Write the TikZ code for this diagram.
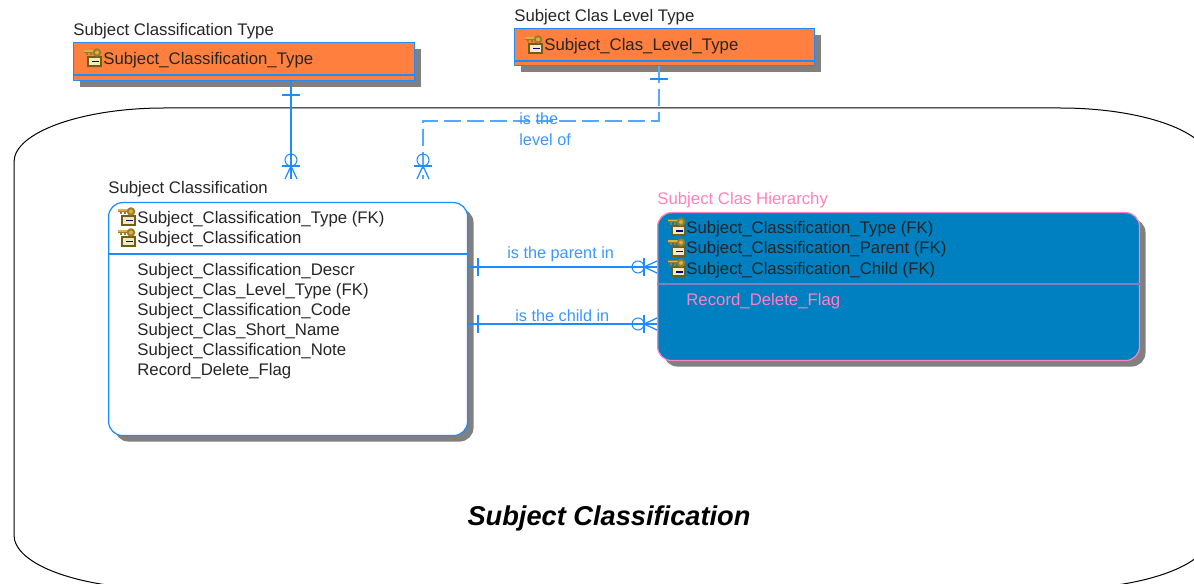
\documentclass[tikz,border=0pt]{standalone}
\usepackage{fontspec}
\setmainfont{Liberation Sans}
\usetikzlibrary{shadows}
\definecolor{linkblue}{HTML}{1E8CFF}
\definecolor{weakblue}{HTML}{55A8FF}
\definecolor{labelblue}{HTML}{3C96FF}
\definecolor{rowpink}{HTML}{FF80C0}
\definecolor{boxorange}{HTML}{FF7F3F}
\definecolor{boxblue}{HTML}{0080C0}
\definecolor{rulepurple}{HTML}{8080C0}
\definecolor{keygold}{HTML}{E0B040}
\definecolor{keyolive}{HTML}{6E6010}
\tikzset{
	keyicon/.pic={
		\fill[keygold!70!black] (0,1) rectangle (11,4);
		\fill[keygold!70!black] (2,4) rectangle (4,6.5);
		\fill[keygold!70!black] (6,4) rectangle (8,6.5);
		\fill[keyolive] (3,7) rectangle (18,18);
		\fill[keygold] (0,1.5) rectangle (11,3);
		\draw[keygold!70!black, fill=keygold, line width=0.04cm] (13,3.5) circle[radius=3.2];
		\fill[keygold!30!white] (5,9) rectangle (16,16);
		\fill[blue!55!black] (8,12) rectangle (15,13.5);
	}
}
\begin{document}
\begin{tikzpicture}[x=0.02cm, y=-0.02cm]
	\tikzstyle{entity} = [ draw=linkblue, rectangle, anchor=north west, inner sep=0, line width=0.025cm,
		drop shadow={shadow xshift=0.12cm, shadow yshift=-0.12cm, fill=gray, opacity=1} ];
	\tikzstyle{lookup} = [ entity, fill=boxorange ];
	\tikzstyle{main} = [ entity, fill=white, rounded corners=0.28cm ];
	\tikzstyle{child} = [ entity, draw=rowpink, fill=boxblue, rounded corners=0.28cm ];
	\tikzstyle{row} = [ anchor=base west, inner sep=0, font={\fontsize{9.55}{11}\selectfont}, text=black!85 ];
	\tikzstyle{pinkrow} = [ row, text=rowpink ];
	\tikzstyle{verb} = [ row, text=labelblue, font={\fontsize{9.25}{11}\selectfont} ];
	\tikzstyle{link} = [ draw=linkblue, line width=0.025cm ];
	\tikzstyle{weak} = [ draw=weakblue, line width=0.025cm, dash pattern=on 0.34cm off 0.12cm ];
	\tikzstyle{ring} = [ draw=linkblue, circle, inner sep=0, minimum size=0.24cm, line width=0.02cm ];

	\clip (0,0) rectangle (1194,584);

	% subject area outline
	\draw[line width=0.02cm] (14,162) .. controls (14,132) and (83,108) .. (164,108) -- (1060,108)
		.. controls (1143,108) and (1210,132) .. (1210,162) -- (1210,535)
		.. controls (1210,565) and (1143,589) .. (1060,589) -- (164,589)
		.. controls (81,589) and (14,565) .. (14,535) -- cycle;
	\node[font={\fontsize{15.5}{18}\selectfont\bfseries\itshape}] (area) at (609,518) {Subject Classification};

	\node[lookup, minimum width=6.82cm, minimum height=0.76cm] (typeBox) at (73,42) {};
	\node[lookup, minimum width=6cm, minimum height=0.74cm] (levelBox) at (514,28) {};
	\node[main, minimum width=7.18cm, minimum height=4.66cm] (classBox) at (108,202) {};
	\node[child, minimum width=9.64cm, minimum height=2.96cm] (hierBox) at (657,212) {};

	\draw[link] (typeBox.west |- 0,75) to (typeBox.east |- 0,75);
	\draw[link] (levelBox.west |- 0,61) to (levelBox.east |- 0,61);
	\draw[link] (classBox.west |- 0,254) to (classBox.east |- 0,254);
	\draw[rulepurple, line width=0.03cm] (hierBox.west |- 0,284) to (hierBox.east |- 0,284);

	\node[row] (typeTitle) at (73,36) {Subject Classification Type};
	\node[row] (levelTitle) at (514,22) {Subject Clas Level Type};
	\node[row] (classTitle) at (108,194) {Subject Classification};
	\node[pinkrow] (hierTitle) at (657,205) {Subject Clas Hierarchy};

	\pic at (84,49) {keyicon};
	\node[row] (typeKey) at (103,65) {Subject\_Classification\_Type};
	\pic at (525,36) {keyicon};
	\node[row] (levelKey) at (544,51) {Subject\_Clas\_Level\_Type};

	\pic at (118,208) {keyicon};
	\node[row] (classKeyA) at (137,224) {Subject\_Classification\_Type (FK)};
	\pic at (118,229) {keyicon};
	\node[row] (classKeyB) at (137,244) {Subject\_Classification};

	\foreach \attr [count=\ai] in {Subject\_Classification\_Descr,Subject\_Clas\_Level\_Type (FK),Subject\_Classification\_Code,Subject\_Clas\_Short\_Name,Subject\_Classification\_Note,Record\_Delete\_Flag} {
		\node[row] (classAttr\ai) at (137,{256+20*\ai}) {\attr};
	}

	\foreach \attr [count=\ai] in {Subject\_Classification\_Type (FK),Subject\_Classification\_Parent (FK),Subject\_Classification\_Child (FK)} {
		\pic at (668,{198+20.5*\ai}) {keyicon};
		\node[row] (hierKey\ai) at (686,{213+20.5*\ai}) {\attr};
	}
	\node[pinkrow] (hierAttr) at (686,306) {Record\_Delete\_Flag};

	% relationship ends
	\coordinate (footType) at (291,179);
	\coordinate (footLevel) at (423,179);
	\coordinate (corner) at (423,121);
	\coordinate (parentY) at (467,267);
	\coordinate (childY) at (467,324);

	\draw[link] (typeBox.south -| footType) to (footType);
	\draw[weak] (levelBox.south -| 659,0) -- (659,121) -- (corner) -- (footLevel);
	\draw[link] (classBox.east |- parentY) to (hierBox.west |- parentY);
	\draw[link] (classBox.east |- childY) to (hierBox.west |- childY);

	\draw[link] (282,95) -- (300,95);
	\draw[link] (650,79) -- (668,79);

	\foreach \fx/\fn in {291/footType,423/footLevel} {
		\node[ring] (ring\fn) at (\fx,160) {};
		\draw[link] (\fx-9,166) -- (\fx+9,166);
		\draw[link] (\fx,166) -- (\fx-6,179);
		\draw[link] (\fx,166) -- (\fx+6,179);
	}

	\foreach \fy/\fn in {267/parentY,324/childY} {
		\draw[link] (478,\fy-9) -- (478,\fy+9);
		\node[ring] (ring\fn) at (638,\fy) {};
		\draw[link] (644,\fy-9) -- (644,\fy+9);
		\draw[link] (644,\fy) -- (657,\fy-6);
		\draw[link] (644,\fy) -- (657,\fy+6);
	}

	\node[verb] (levelVerbA) at (519,125) {is the};
	\node[verb] (levelVerbB) at (519,146) {level of};
	\node[verb] (parentVerb) at (507,259) {is the parent in};
	\node[verb] (childVerb) at (515,321) {is the child in};
\end{tikzpicture}
\end{document}
